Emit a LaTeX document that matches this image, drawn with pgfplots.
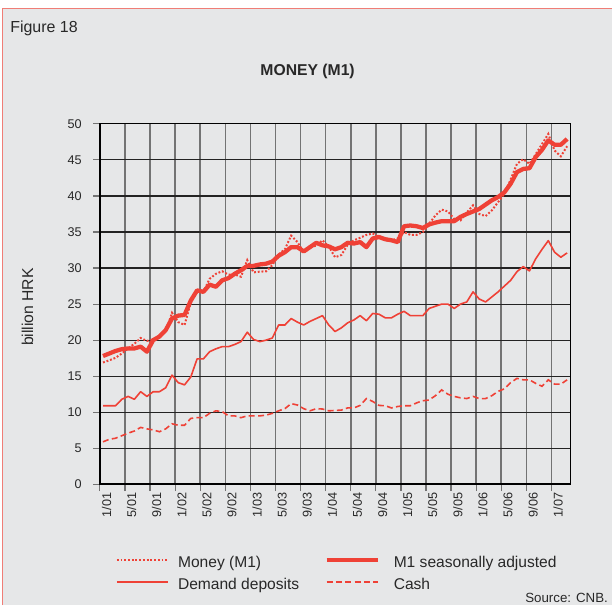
\documentclass[border=0pt]{standalone}
\usepackage{pgfplots}
\usepackage{pgfplotstable}
\pgfplotsset{compat=1.18}
\usepackage{fontspec}
\setmainfont{Liberation Sans}
\definecolor{cnbred}{RGB}{239,65,54}
\definecolor{bgray}{RGB}{230,231,232}
\definecolor{frame}{RGB}{240,125,118}
\definecolor{vgrid}{RGB}{115,115,115}
\definecolor{hgrid}{RGB}{35,35,35}
\definecolor{txt}{RGB}{40,40,40}

\pgfplotstableread{
i m1 sa dd cash
0 16.9 17.8 10.9 5.9
1 17.2 18.15 10.9 6.25
2 17.55 18.5 10.9 6.4
3 18.15 18.75 11.8 6.75
4 18.85 18.85 12.2 7.1
5 19.5 18.85 11.8 7.4
6 20.3 19.1 12.85 7.9
7 19.9 18.4 12.2 7.7
8 20.1 20.0 12.85 7.55
9 20.5 20.5 12.85 7.3
10 21.2 21.4 13.4 7.7
11 23.8 23.0 15.15 8.4
12 22.5 23.4 14.1 8.2
13 22.1 23.5 13.8 8.2
14 25.2 25.5 14.9 9.15
15 26.7 26.9 17.4 9.25
16 26.7 26.7 17.4 9.25
17 28.5 27.7 18.4 9.85
18 29.2 27.4 18.8 10.2
19 29.55 28.3 19.1 10.1
20 29.1 28.6 19.1 9.5
21 29.1 29.2 19.4 9.5
22 28.8 29.7 19.8 9.25
23 31.1 30.3 21.1 9.5
24 29.4 30.3 20.1 9.5
25 29.5 30.5 19.8 9.5
26 29.55 30.6 20.0 9.6
27 30.4 30.9 20.3 9.85
28 31.9 31.7 22.1 10.2
29 32.6 32.2 22.1 10.5
30 34.5 32.9 23.0 11.2
31 33.6 32.9 22.5 11.0
32 32.2 32.3 22.1 10.5
33 32.9 32.9 22.6 10.2
34 33.1 33.5 23.0 10.5
35 33.85 33.15 23.4 10.45
36 33.0 33.0 22.1 10.2
37 31.5 32.6 21.2 10.25
38 31.8 32.9 21.7 10.3
39 33.2 33.5 22.4 10.6
40 33.85 33.4 22.8 10.6
41 34.2 33.6 23.4 10.95
42 34.6 32.9 22.7 11.9
43 34.8 34.1 23.7 11.5
44 34.3 34.3 23.6 10.95
45 33.85 34.0 23.1 10.9
46 33.85 33.85 23.1 10.6
47 34.1 33.6 23.6 10.8
48 35.0 35.8 24.0 10.9
49 34.6 35.9 23.4 10.9
50 34.6 35.8 23.4 11.3
51 35.0 35.55 23.4 11.6
52 36.15 36.05 24.4 11.7
53 37.3 36.3 24.7 12.3
54 38.1 36.5 25.0 13.1
55 37.85 36.5 25.0 12.5
56 36.8 36.5 24.4 12.2
57 36.6 37.1 25.0 12.0
58 37.7 37.5 25.3 11.9
59 38.7 37.85 26.7 12.2
60 37.5 38.2 25.7 11.9
61 37.2 38.8 25.3 11.9
62 38.0 39.4 26.0 12.3
63 39.15 39.85 26.7 12.9
64 40.3 40.5 27.5 13.25
65 42.3 41.7 28.3 14.1
66 44.45 43.3 29.5 14.7
67 45.1 43.75 30.2 14.5
68 44.45 43.85 29.6 14.5
69 45.8 45.4 31.3 14.0
70 47.2 46.4 32.6 13.6
71 48.6 47.7 33.8 14.5
72 46.3 47.1 32.2 13.9
73 45.5 47.1 31.5 13.9
74 46.9 47.9 32.1 14.5
}\datatable

\begin{document}
\begin{tikzpicture}[x=0.75pt,y=0.75pt]
% page and frame
\path[fill=white] (0,0) rectangle (613,606);
\path[fill=bgray] (2.5,0) rectangle (613,597.5);
\draw[frame,line width=1.2pt] (2.5,0) -- (2.5,597.5) -- (613,597.5);

\node[anchor=base west,inner sep=0pt,text=txt,font=\fontsize{12}{14}\selectfont] at (10,573) {Figure 18};
\node[anchor=base,inner sep=0pt,text=txt,font=\fontsize{11.8}{14}\selectfont\bfseries] at (308,530) {MONEY (M1)};
\node[rotate=90,anchor=center,inner sep=0pt,text=txt,font=\fontsize{11.8}{14}\selectfont] at (27.5,298.5) {billion HRK};

\begin{axis}[
  at={(75pt,90.75pt)}, anchor=south west,
  width=353.25pt, height=270.75pt, scale only axis,
  xmin=0, xmax=75, ymin=0, ymax=50,
  xtick={0,4,...,72},
  xticklabels={1/01,5/01,9/01,1/02,5/02,9/02,1/03,5/03,9/03,1/04,5/04,9/04,1/05,5/05,9/05,1/06,5/06,9/06,1/07},
  ytick={0,5,...,50},
  tick align=outside, tick pos=left,
  major tick length=5pt,
  every tick/.style={vgrid, line width=0.9pt},
  grid=major,
  major x grid style={vgrid, line width=1.2pt},
  major y grid style={hgrid, line width=0.9pt},
  axis line style={black, line width=0.9pt},
  /pgf/number format/assume math mode=true,
  ticklabel style={text=txt, font=\fontsize{9.5}{11}\selectfont},
  xticklabel style={rotate=90, anchor=east, inner sep=1pt, xshift=0pt, yshift=-5pt},
  yticklabel style={anchor=east, inner sep=1pt, xshift=-7.5pt},
  clip=false,
]
\addplot[cnbred, line width=3.2pt, line join=round] table[x expr=\thisrow{i}+0.5, y=sa] {\datatable};
\addplot[cnbred, line width=1.5pt, dash pattern=on 1.4pt off 1.4pt] table[x expr=\thisrow{i}+0.5, y=m1] {\datatable};
\addplot[cnbred, line width=1.2pt, line join=round] table[x expr=\thisrow{i}+0.5, y=dd] {\datatable};
\addplot[cnbred, line width=1.2pt, dash pattern=on 4.5pt off 2.5pt] table[x expr=\thisrow{i}+0.5, y=cash] {\datatable};
\draw[black, line width=1.6pt] (rel axis cs:0,1) -- (rel axis cs:0,0) -- (rel axis cs:1,0);
\end{axis}

% legend
\draw[cnbred, line width=1.5pt, dash pattern=on 1.4pt off 1.4pt] (117,45) -- (168,45);
\node[anchor=base west,inner sep=0pt,text=txt,font=\fontsize{11.7}{14}\selectfont] at (178,38) {Money (M1)};
\draw[cnbred, line width=3.2pt] (327,45) -- (378,45);
\node[anchor=base west,inner sep=0pt,text=txt,font=\fontsize{11.7}{14}\selectfont] at (394,38) {M1 seasonally adjusted};
\draw[cnbred, line width=1.2pt] (117,23) -- (168,23);
\node[anchor=base west,inner sep=0pt,text=txt,font=\fontsize{11.7}{14}\selectfont] at (178,16) {Demand deposits};
\draw[cnbred, line width=1.2pt, dash pattern=on 4.5pt off 2.5pt] (327,23) -- (378,23);
\node[anchor=base west,inner sep=0pt,text=txt,font=\fontsize{11.7}{14}\selectfont] at (394,16) {Cash};
\node[anchor=base east,inner sep=0pt,text=txt,font=\fontsize{10}{12}\selectfont] at (609,3) {Source: CNB.};
\end{tikzpicture}
\end{document}
